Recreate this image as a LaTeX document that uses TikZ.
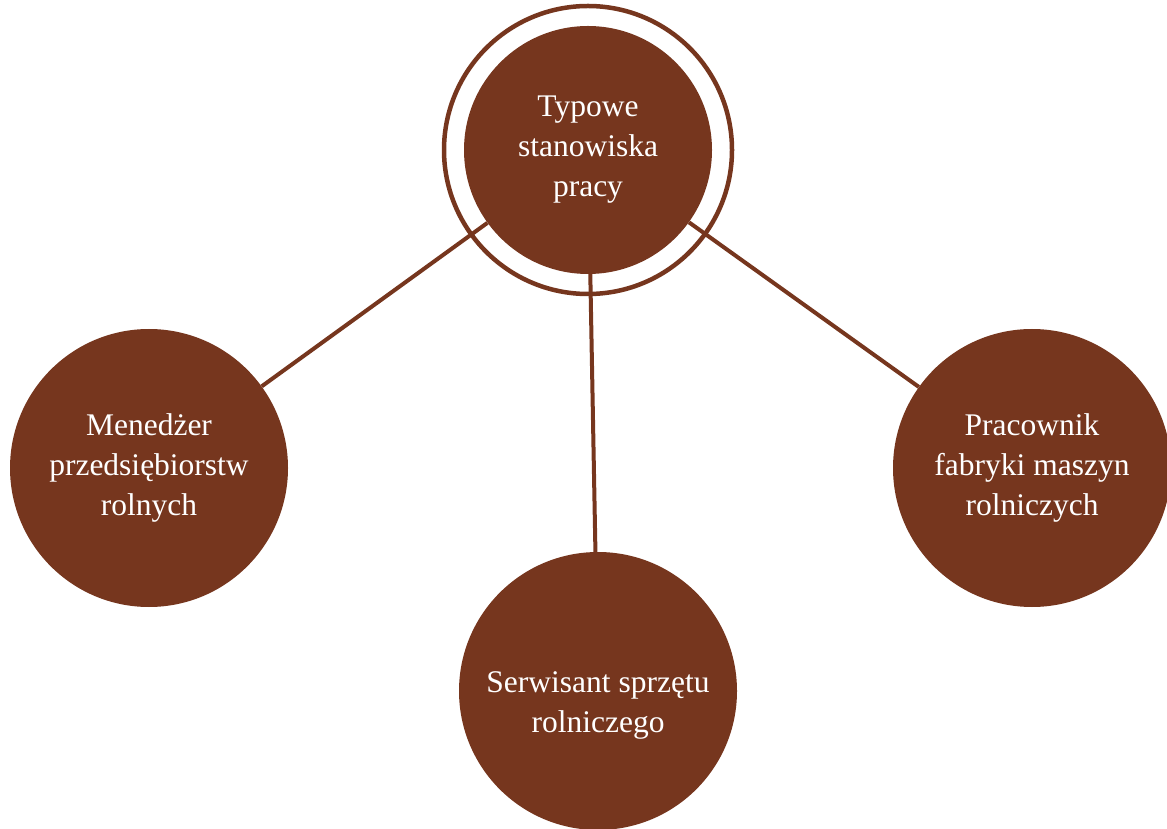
\documentclass[tikz,border=0pt]{standalone}
\usepackage{fontspec}
\setmainfont{Liberation Serif}
\usetikzlibrary{positioning}

\definecolor{rust}{RGB}{118,54,30}

\begin{document}
\begin{tikzpicture}[
        x=1pt, y=1pt,
        hub/.style={circle, fill=rust, text=white, minimum size=248pt, inner sep=0pt, align=center, font=\fontsize{31.5}{40}\selectfont},
        job/.style={circle, fill=rust, text=white, minimum size=278pt, inner sep=0pt, align=center, font=\fontsize{31.5}{40}\selectfont},
        ring/.style={circle, draw=rust, line width=4.5pt, minimum size=288pt, inner sep=0pt},
        link/.style={draw=rust, line width=4pt}
    ]
    \useasboundingbox (0,0) rectangle (1167,828);

    % Nodes
    \node (hub) [hub] at (588,678) {Typowe\\ stanowiska\\ pracy};
    \node (outer) [ring] at (hub.center) {};
    \node (manager) [job] at (149,360) {Menedżer\\ przedsiębiorstw\\ rolnych};
    \node (service) [job] at (598,137) {\rule{0pt}{50pt}Serwisant sprzętu\\ rolniczego};
    \node (factory) [job] at (1032,360) {Pracownik\\ fabryki maszyn\\ rolniczych};

    % Links
    \draw [link] (hub) -- (manager);
    \draw [link] (hub) -- (service);
    \draw [link] (hub) -- (factory);

\end{tikzpicture}
\end{document}
